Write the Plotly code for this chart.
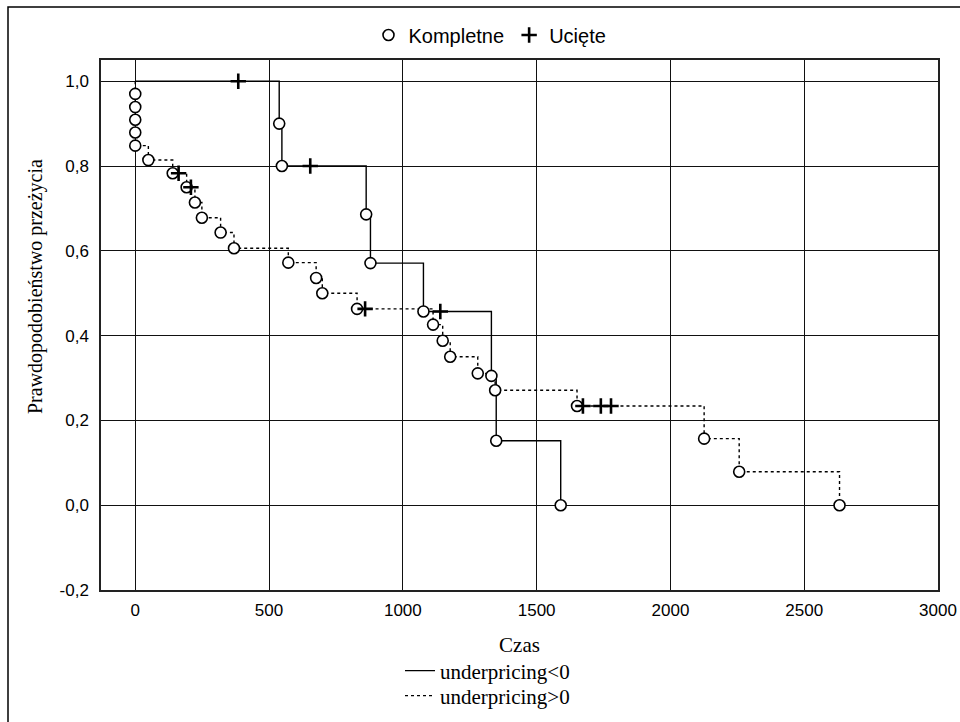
import plotly.graph_objects as go

# ---- data ----
neg_event_t = [538, 548, 863, 879, 1077, 1331, 1349, 1590]
neg_event_s = [0.900, 0.800, 0.686, 0.571, 0.457, 0.305, 0.152, 0.000]
neg_cens_t = [385, 654, 1140]
neg_cens_s = [1.000, 0.800, 0.457]

pos_event_t = [0, 0, 0, 0, 0, 49, 140, 192, 223, 249, 319, 369, 572, 676, 699, 829,
               1113, 1149, 1177, 1280, 1345, 1651, 2126, 2257, 2632]
pos_event_s = [0.970, 0.939, 0.909, 0.879, 0.848, 0.814, 0.783, 0.750, 0.714, 0.678,
               0.643, 0.606, 0.572, 0.536, 0.500, 0.463, 0.426, 0.388, 0.350, 0.311,
               0.271, 0.234, 0.157, 0.079, 0.000]
pos_cens_t = [162, 208, 859, 1673, 1740, 1778]
pos_cens_s = [0.783, 0.750, 0.463, 0.234, 0.234, 0.234]

y_tickvals = [-0.2, 0.0, 0.2, 0.4, 0.6, 0.8, 1.0]
y_ticktext = ["-0,2", "0,0", "0,2", "0,4", "0,6", "0,8", "1,0"]
x_tickvals = [0, 500, 1000, 1500, 2000, 2500, 3000]
x_ticktext = ["0", "500", "1000", "1500", "2000", "2500", "3000"]

SANS = "Liberation Sans, Arial, sans-serif"
SERIF = "Liberation Serif, Times New Roman, serif"

fig = go.Figure()

# step lines
fig.add_trace(go.Scatter(
    x=[0] + neg_event_t, y=[1.0] + neg_event_s, mode="lines", line_shape="hv",
    line=dict(color="black", width=1.4), name="underpricing<0", legend="legend2"))
fig.add_trace(go.Scatter(
    x=[0] + pos_event_t, y=[1.0] + pos_event_s, mode="lines", line_shape="hv",
    line=dict(color="black", width=1.4, dash="3px,3px"), name="underpricing>0",
    legend="legend3"))

# event markers (complete)
circ = dict(symbol="circle", size=11, color="white", line=dict(color="black", width=1.6))
fig.add_trace(go.Scatter(x=neg_event_t, y=neg_event_s, mode="markers", marker=circ,
                         name="Kompletne", legendgroup="k", legend="legend"))
fig.add_trace(go.Scatter(x=pos_event_t, y=pos_event_s, mode="markers", marker=circ,
                         name="Kompletne", legendgroup="k", showlegend=False))

# censored markers
cross = dict(symbol="cross-thin", size=11, color="black", line=dict(color="black", width=2.6))
fig.add_trace(go.Scatter(x=neg_cens_t, y=neg_cens_s, mode="markers", marker=cross,
                         name="Ucięte", legendgroup="u", legend="legend"))
fig.add_trace(go.Scatter(x=pos_cens_t, y=pos_cens_s, mode="markers", marker=cross,
                         name="Ucięte", legendgroup="u", showlegend=False))

L, R, T, B = 101, 22, 60, 132
PW, PH = 960 - L - R, 722 - T - B

def px2paper(px, py):
    return (px - L) / PW, (722 - B - py) / PH

fx0, fy0 = px2paper(8, 7)
fx1, fy1 = px2paper(975, 740)

bottom_leg = dict(orientation="v", x=px2paper(400, 0)[0], xanchor="left",
                  yanchor="middle", font=dict(family=SERIF, size=21, color="black"),
                  bgcolor="rgba(0,0,0,0)", itemwidth=30, tracegroupgap=0)

fig.update_layout(
    width=960, height=722,
    margin=dict(l=L, r=R, t=T, b=B, autoexpand=False),
    paper_bgcolor="white", plot_bgcolor="white",
    font=dict(family=SANS, size=16, color="black"),
    showlegend=True,
    legend=dict(orientation="h", x=px2paper(490, 0)[0], xanchor="center",
                y=px2paper(0, 35)[1],
                yanchor="middle", font=dict(family=SANS, size=20, color="black"),
                bgcolor="rgba(0,0,0,0)", itemwidth=30, tracegroupgap=0),
    legend2=dict(bottom_leg, y=px2paper(0, 671)[1]),
    legend3=dict(bottom_leg, y=px2paper(0, 696)[1]),
    xaxis=dict(range=[-128, 3000], tickvals=x_tickvals, ticktext=x_ticktext,
               showgrid=True, gridcolor="#111", gridwidth=1, zeroline=False,
               showline=True, linecolor="#222", linewidth=1.5, mirror=True,
               ticks="", ticklabelstandoff=4,
               tickfont=dict(family=SANS, size=17, color="black"),
               title=dict(text="Czas", font=dict(family=SERIF, size=21, color="black"),
                          standoff=18)),
    yaxis=dict(range=[-0.2, 1.05], tickvals=y_tickvals, ticktext=y_ticktext,
               showgrid=True, gridcolor="#111", gridwidth=1, zeroline=False,
               showline=True, linecolor="#222", linewidth=1.5, mirror=True,
               ticks="", ticklabelstandoff=7,
               tickfont=dict(family=SANS, size=17, color="black")),
    shapes=[dict(type="rect", xref="paper", yref="paper", x0=fx0, y0=fy1, x1=fx1, y1=fy0,
                 line=dict(color="black", width=1.5), fillcolor="rgba(0,0,0,0)",
                 layer="below")],
    annotations=[dict(text="Prawdopodobieństwo przeżycia", textangle=-90,
                      xref="paper", yref="paper", x=px2paper(35, 0)[0],
                      y=px2paper(0, 287)[1], xanchor="center", yanchor="middle",
                      showarrow=False, font=dict(family=SERIF, size=20, color="black"))],
)

fig.write_html("out.html", config={"displayModeBar": False},
               post_script="document.body.style.margin='0';document.body.style.overflow='hidden';")
